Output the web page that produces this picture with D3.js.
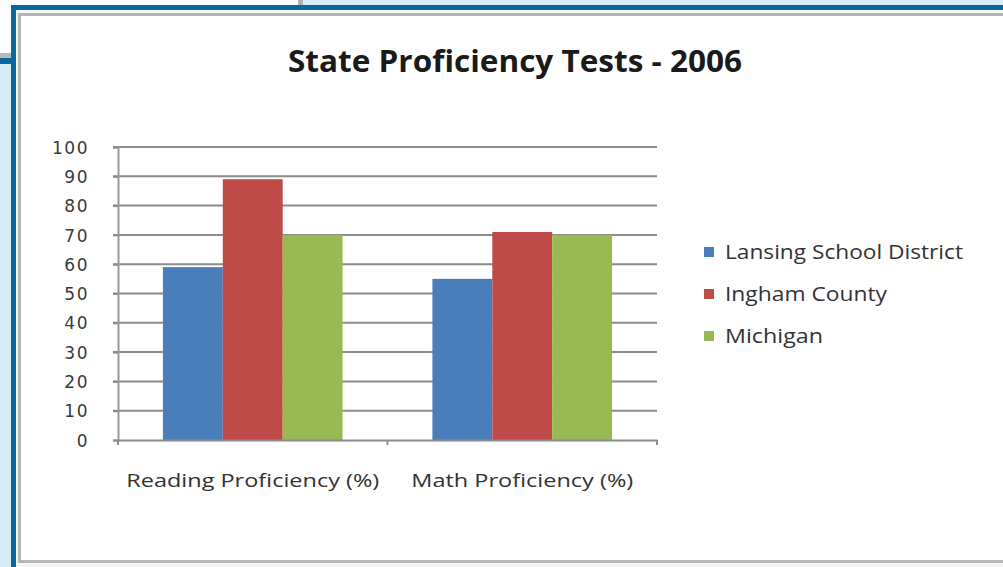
<!DOCTYPE html>
<html>
<head>
<meta charset="utf-8">
<script src="https://cdn.jsdelivr.net/npm/d3@7"></script>
<style>
  body { margin: 0; background: #d6eef9; }
  text { font-family: "Open Sans", "Liberation Sans", sans-serif; }
</style>
</head>
<body>
<svg id="chart" width="1003" height="567"></svg>
<script>
// data
var categories = ["Reading Proficiency (%)", "Math Proficiency (%)"];
var seriesNames = ["Lansing School District", "Ingham County", "Michigan"];
var lansing = [59, 55];
var ingham = [89, 71];
var michigan = [70, 70];
var yTicks = [0, 10, 20, 30, 40, 50, 60, 70, 80, 90, 100];
var colors = ["#4a7ebb", "#be4b48", "#98b954"];

var seriesValues = [lansing, ingham, michigan];

var svg = d3.select("#chart");

// backdrop: bits of other windows + blue frame
svg.append("rect").attr("x", 0).attr("y", 0).attr("width", 298).attr("height", 6).attr("fill", "#fbfdfe");
svg.append("rect").attr("x", 298).attr("y", 0).attr("width", 5).attr("height", 6).attr("fill", "#a9b4ba");
svg.append("rect").attr("x", 0).attr("y", 0).attr("width", 12).attr("height", 54).attr("fill", "#fbfdfe");
svg.append("rect").attr("x", 0).attr("y", 53).attr("width", 12).attr("height", 5).attr("fill", "#b4bcc1");
svg.append("rect").attr("x", 0).attr("y", 58).attr("width", 12).attr("height", 6).attr("fill", "#0b679d");

svg.append("rect")
  .attr("x", 13.5).attr("y", 7.5)
  .attr("width", 1010).attr("height", 600)
  .attr("fill", "#f4f5f5")
  .attr("stroke", "#0b679d").attr("stroke-width", 5);

svg.append("rect")
  .attr("x", 19.5).attr("y", 14.5)
  .attr("width", 995).attr("height", 547)
  .attr("fill", "#fff")
  .attr("stroke", "#b5b5b5").attr("stroke-width", 3);

// title
svg.append("text")
  .attr("x", 288).attr("y", 72)
  .attr("font-size", 30).attr("font-weight", "bold")
  .attr("fill", "#1a1a1a")
  .attr("textLength", 454).attr("lengthAdjust", "spacingAndGlyphs")
  .text("State Proficiency Tests - 2006");

var plot = { left: 118, right: 657, top: 147, bottom: 440 };

var x0 = d3.scaleBand().domain(categories).range([plot.left, plot.right]);
var x1 = d3.scaleBand().domain(seriesNames).range([0, x0.bandwidth()])
  .paddingOuter(0.75).paddingInner(0);
var y = d3.scaleLinear().domain([0, 100]).range([plot.bottom, plot.top]);

// gridlines
svg.append("g").selectAll("line").data(yTicks.slice(1)).join("line")
  .attr("x1", plot.left - 5).attr("x2", plot.right)
  .attr("y1", function(d) { return y(d); }).attr("y2", function(d) { return y(d); })
  .attr("stroke", "#8c8c8c").attr("stroke-width", 2);

// y axis
var yAxis = svg.append("g")
  .attr("transform", "translate(" + plot.left + ",0)")
  .call(d3.axisLeft(y).tickValues(yTicks).tickSize(5).tickPadding(24));
yAxis.select(".domain").attr("stroke", "#9a9a9a").attr("stroke-width", 2);
yAxis.selectAll(".tick line").attr("stroke", "#8c8c8c").attr("stroke-width", 2);
yAxis.selectAll("text").attr("font-size", 17).attr("fill", "#3a3a3a")
  .style("font-family", "'DejaVu Sans', sans-serif")
  .attr("letter-spacing", 1.5).attr("dy", "0.36em");

// bars
var groups = svg.append("g").selectAll("g").data(categories).join("g")
  .attr("transform", function(d) { return "translate(" + x0(d) + ",0)"; });

groups.selectAll("rect")
  .data(function(c, i) {
    return seriesNames.map(function(s, j) { return { s: s, v: seriesValues[j][i], j: j }; });
  })
  .join("rect")
  .attr("x", function(d) { return x1(d.s); })
  .attr("width", x1.bandwidth())
  .attr("y", function(d) { return y(d.v); })
  .attr("height", function(d) { return y(0) - y(d.v); })
  .attr("fill", function(d) { return colors[d.j]; });

// x axis
var xAxis = svg.append("g")
  .attr("transform", "translate(0," + plot.bottom + ")")
  .call(d3.axisBottom(x0).tickSize(0).tickPadding(34));
xAxis.select(".domain").attr("stroke", "#8c8c8c").attr("stroke-width", 2);
xAxis.selectAll("text").attr("font-size", 19).attr("fill", "#333")
  .attr("textLength", function(d, i) { return i === 0 ? 253 : 222; })
  .attr("lengthAdjust", "spacingAndGlyphs");
svg.append("g").selectAll("line")
  .data([plot.left, x0(categories[1]), plot.right]).join("line")
  .attr("x1", function(d) { return d; }).attr("x2", function(d) { return d; })
  .attr("y1", plot.bottom).attr("y2", plot.bottom + 5)
  .attr("stroke", "#8c8c8c").attr("stroke-width", 2);

// legend
var legendWidths = [238, 162, 98];
var legend = svg.append("g").selectAll("g").data(seriesNames).join("g")
  .attr("transform", function(d, i) { return "translate(704," + (252 + i * 42) + ")"; });
legend.append("rect").attr("x", 0).attr("y", -5).attr("width", 10).attr("height", 10)
  .attr("fill", function(d, i) { return colors[i]; });
legend.append("text").attr("x", 21).attr("y", 7)
  .attr("font-size", 20).attr("fill", "#333")
  .attr("textLength", function(d, i) { return legendWidths[i]; })
  .attr("lengthAdjust", "spacingAndGlyphs")
  .text(function(d) { return d; });
</script>
</body>
</html>
